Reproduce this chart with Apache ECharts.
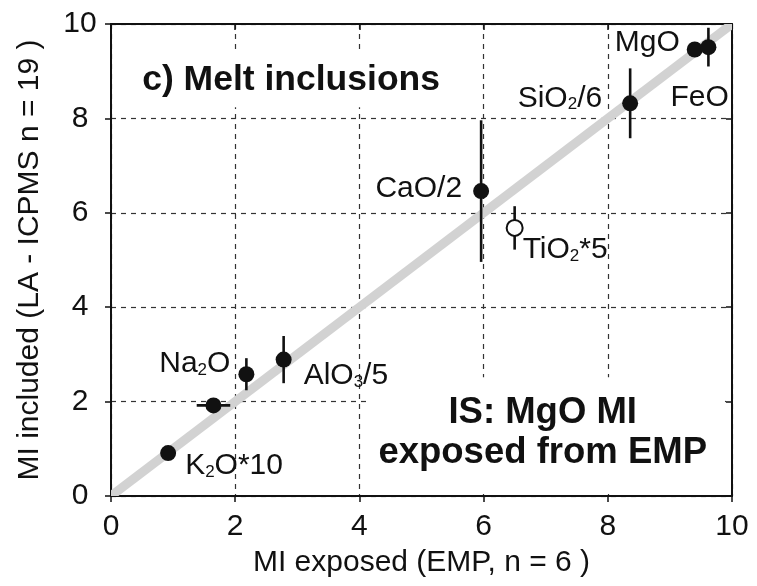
<!DOCTYPE html>
<html>
<head>
<meta charset="utf-8">
<script src="https://cdn.jsdelivr.net/npm/echarts@6/dist/echarts.min.js"></script>
<style>
html,body{margin:0;padding:0;background:#fff;}
#chart{width:757px;height:586px;}
</style>
</head>
<body>
<div id="chart"></div>
<script>
// ---- data ----
var names = ['K2O*10', 'Na2O (h)', 'Na2O', 'AlO3/5', 'CaO/2', 'TiO2*5', 'SiO2/6', 'MgO', 'FeO'];
var labelTexts = ['K{s|2}O*10', '', 'Na{s|2}O', 'AlO{s|3}/5', 'CaO/2', 'TiO{s|2}*5', 'SiO{s|2}/6', 'MgO', 'FeO'];
var xValues = [0.92, 1.65, 2.18, 2.78, 5.96, 6.50, 8.36, 9.40, 9.62];
var yValues = [0.91, 1.92, 2.58, 2.89, 6.46, 5.68, 8.32, 9.46, 9.51];
var xErrors = [0, 0.27, 0, 0, 0, 0, 0, 0, 0];
var yErrors = [0, 0, 0.34, 0.50, 1.50, 0.46, 0.74, 0, 0.41];
var hollow = [false, false, false, false, false, true, false, false, false];
var oneToOne = [[0, 0, 10, 10]];
var xTicks = [0, 2, 4, 6, 8, 10];
var yTicks = [0, 2, 4, 6, 8, 10];
var xTitle = 'MI exposed (EMP, n = 6 )';
var yTitle = 'MI included (LA - ICPMS n = 19 )';
var panelTitle = 'c) Melt inclusions';
var noteText = 'IS: MgO MI\nexposed from EMP';
var annotationPos = [[2.90, 8.81], [7.0, 1.33]];

// ---- styling (not data) ----
var FONT = 'Liberation Sans, Arial, sans-serif';
var INK = '#111';
var labelAlign = ['left', 'left', 'right', 'left', 'right', 'left', 'right', 'right', 'left'];
var labelOffset = [[17, 13], [0, 0], [-16, -10], [20, 16], [-19, -2], [8, 22], [-28, -5], [-15, -7], [-38, 51]];

var pointData = xValues.map(function (x, i) {
  return {
    value: [x, yValues[i]],
    itemStyle: hollow[i] ? { color: '#fff', borderColor: INK, borderWidth: 2, opacity: 1 } : { color: INK, opacity: 1 },
    label: {
      show: labelTexts[i] !== '',
      formatter: labelTexts[i],
      position: 'inside',
      align: labelAlign[i],
      verticalAlign: 'middle',
      offset: labelOffset[i],
      color: INK
    }
  };
});
var errData = xValues.map(function (x, i) { return [x, yValues[i], xErrors[i], yErrors[i]]; });

var chart = echarts.init(document.getElementById('chart'), null, { renderer: 'canvas' });
var gridLine = { show: true, lineStyle: { color: '#333', width: 1.2, type: [5, 5] } };
var axisLineStyle = { show: true, onZero: false, lineStyle: { color: INK, width: 2 } };

var option = {
  backgroundColor: '#fff',
  animation: false,
  textStyle: { fontFamily: FONT },
  grid: { left: 111, right: 25, top: 24, bottom: 90, show: false },
  xAxis: [{
    type: 'value', min: 0, max: 10, interval: 2,
    axisLine: axisLineStyle,
    axisTick: { show: true, inside: false, length: 6, lineStyle: { color: INK, width: 1.5 } },
    axisLabel: { fontSize: 30, color: INK, margin: 16, fontFamily: FONT,
      formatter: function (v) { return xTicks.indexOf(v) >= 0 ? String(v) : ''; } },
    splitLine: gridLine,
    name: xTitle, nameLocation: 'middle', nameGap: 52,
    nameTextStyle: { fontSize: 30, color: INK, fontFamily: FONT }
  }, {
    type: 'value', min: 0, max: 10, interval: 2, position: 'top',
    axisLine: axisLineStyle,
    axisTick: { show: true, inside: true, length: 6, lineStyle: { color: INK, width: 1.5 } },
    axisLabel: { show: false }, splitLine: { show: false }
  }],
  yAxis: [{
    type: 'value', min: 0, max: 10, interval: 2,
    axisLine: axisLineStyle,
    axisTick: { show: true, inside: false, length: 6, lineStyle: { color: INK, width: 1.5 } },
    axisLabel: { fontSize: 30, color: INK, margin: 31, align: 'center', fontFamily: FONT,
      formatter: function (v) { return yTicks.indexOf(v) >= 0 ? String(v) : ''; } },
    splitLine: gridLine,
    name: yTitle, nameLocation: 'middle', nameGap: 66,
    nameTextStyle: { fontSize: 30, color: INK, fontFamily: FONT }
  }, {
    type: 'value', min: 0, max: 10, interval: 2, position: 'right',
    axisLine: axisLineStyle,
    axisTick: { show: true, inside: true, length: 6, lineStyle: { color: INK, width: 1.5 } },
    axisLabel: { show: false }, splitLine: { show: false }
  }],
  series: [
    {
      name: 'annotations', type: 'scatter', symbol: 'circle', symbolSize: 1, z: 1,
      silent: true,
      itemStyle: { color: 'rgba(0,0,0,0)', opacity: 1 },
      data: [
        { value: annotationPos[0], label: { show: true, formatter: panelTitle, position: 'inside',
          fontSize: 35.5, fontWeight: 'bold', color: INK, backgroundColor: '#fff',
          padding: [9, 10, 9, 10], fontFamily: FONT } },
        { value: annotationPos[1], label: { show: true, formatter: noteText, position: 'inside',
          fontSize: 36.5, lineHeight: 40, fontWeight: 'bold', color: INK, backgroundColor: '#fff',
          align: 'center', padding: [10, 18, 22, 12], fontFamily: FONT } }
      ]
    },
    {
      name: '1:1', type: 'custom', z: 2, clip: true, silent: true,
      renderItem: function (params, api) {
        var a = api.coord([api.value(0), api.value(1)]);
        var b = api.coord([api.value(2), api.value(3)]);
        return { type: 'line', shape: { x1: a[0], y1: a[1], x2: b[0], y2: b[1] },
          style: { stroke: '#d2d2d2', lineWidth: 9 } };
      },
      data: oneToOne
    },
    {
      name: 'errors', type: 'custom', z: 3,
      renderItem: function (params, api) {
        var x = api.value(0), y = api.value(1), ex = api.value(2), ey = api.value(3);
        var children = [];
        var st = { stroke: INK, lineWidth: 2.6 };
        if (ey > 0) {
          var a = api.coord([x, y - ey]), b = api.coord([x, y + ey]);
          children.push({ type: 'line', shape: { x1: a[0], y1: a[1], x2: b[0], y2: b[1] }, style: st });
        }
        if (ex > 0) {
          var c = api.coord([x - ex, y]), d = api.coord([x + ex, y]);
          children.push({ type: 'line', shape: { x1: c[0], y1: c[1], x2: d[0], y2: d[1] }, style: st });
        }
        return { type: 'group', children: children };
      },
      data: errData
    },
    {
      name: 'points', type: 'scatter', z: 4, symbol: 'circle', symbolSize: 16,
      itemStyle: { opacity: 1 },
      label: { fontSize: 30, color: INK, fontFamily: FONT, lineHeight: 30,
        rich: { s: { fontSize: 17, verticalAlign: 'bottom', lineHeight: 10, color: INK, fontFamily: FONT } } },
      data: pointData
    }
  ]
};
chart.setOption(option);
</script>
</body>
</html>
